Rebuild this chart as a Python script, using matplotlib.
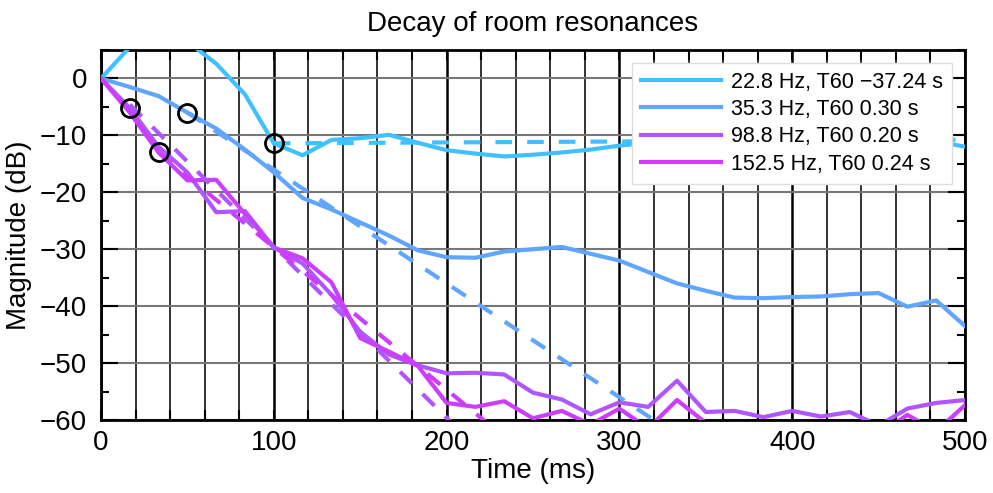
import numpy as np
import matplotlib
matplotlib.use("Agg")
import matplotlib.pyplot as plt
from matplotlib.ticker import MultipleLocator

plt.rcParams['font.family'] = ['Liberation Sans', 'DejaVu Sans']

# time frames (ms), one every 1/60 s
t = np.arange(31) * 500 / 30

db_228 = [0, 5.5, 9, 6.5, 2.6, -2.8, -11.4, -13.5, -10.8, -10.5, -9.9, -11.3, -12.6, -13.2,
          -13.7, -13.4, -13.0, -12.5, -11.8, -11.3, -11.0, -11.2, -11.5, -11.2, -10.9,
          -11.3, -11.6, -11.2, -10.9, -11.0, -12.0]
db_353 = [0, -1.5, -3.1, -6.0, -8.8, -12.5, -16.5, -21.0, -23.0, -25.3, -27.6, -30.2, -31.4,
          -31.5, -30.4, -30.0, -29.6, -30.8, -32.0, -34.0, -36.0, -37.3, -38.5, -38.6,
          -38.4, -38.3, -37.9, -37.7, -40.1, -39.0, -43.5]
db_988 = [0, -5.2, -12.0, -16.5, -23.5, -23.3, -29.7, -32.5, -38.0, -44.5, -48.5, -50.4,
          -51.8, -51.7, -52.0, -55.2, -56.4, -59.0, -56.9, -57.7, -53.1, -58.6, -58.4,
          -59.5, -58.4, -59.4, -58.6, -61.0, -58.0, -57.0, -56.5]
db_1525 = [0, -6.0, -13.0, -17.9, -17.8, -23.8, -29.7, -31.6, -35.8, -45.6, -48.0, -50.5,
           -57.0, -57.7, -56.7, -59.7, -58.4, -60.8, -58.0, -61.5, -56.5, -60.5, -62.0,
           -63.0, -62.5, -63.0, -62.0, -62.5, -59.1, -62.0, -57.4]

labels = ['22.8 Hz, T60 \u221237.24 s', '35.3 Hz, T60 0.30 s',
          '98.8 Hz, T60 0.20 s', '152.5 Hz, T60 0.24 s']
colors = ['#40C0FF', '#60A5FF', '#B055FF', '#CC3DFF']
t60 = [-37.24, 0.30, 0.20, 0.24]          # s
fit_t0 = [100.0, 50.0, 16.67, 33.33]     # ms, start of decay fit (circles)
fit_db0 = [-11.4, -6.0, -4.6, -13.0]
circle_db = [-11.4, -6.0, -5.2, -13.0]

fig = plt.figure(figsize=(9.93, 4.93), dpi=100)
ax = fig.add_axes([0.1017, 0.1481, 0.8701, 0.7505])

series = [db_228, db_353, db_988, db_1525]
for db, c, lab in zip(series, colors, labels):
    ax.plot(t, db, color=c, lw=3, label=lab, zorder=3)

for c, T, t0, d0 in zip(colors, t60, fit_t0, fit_db0):
    tf = np.array([t0, 500.0])
    ax.plot(tf, d0 - 60.0 / (T * 1000) * (tf - t0), color=c, lw=3,
            dashes=(4.0, 3.6), zorder=3)

ax.plot(fit_t0, circle_db, 'o', mfc='none', mec='k', ms=13, mew=2, zorder=4)

ax.set_xlim(0, 500)
ax.set_ylim(-60, 5)
ax.xaxis.set_major_locator(MultipleLocator(100))
ax.xaxis.set_minor_locator(MultipleLocator(20))
ax.yaxis.set_major_locator(MultipleLocator(10))
ax.yaxis.set_minor_locator(MultipleLocator(5))
ax.grid(which='major', axis='x', color='k', lw=1.8, zorder=1)
ax.grid(which='minor', axis='x', color='#222222', lw=1.3, zorder=1)
ax.grid(which='major', axis='y', color='#777777', lw=1.5, zorder=1)
ax.tick_params(which='both', direction='in', top=True, right=True, labelsize=20)
ax.tick_params(which='major', axis='y', length=12, width=1.5, pad=10)
ax.tick_params(which='minor', axis='y', length=6, width=1.5)
ax.tick_params(which='both', axis='x', length=7, width=1.5, pad=7)
for s in ax.spines.values():
    s.set_linewidth(2)

ax.set_title('Decay of room resonances', fontsize=20, pad=14)
ax.set_xlabel('Time (ms)', fontsize=20, labelpad=2)
ax.set_ylabel('Magnitude (dB)', fontsize=20, labelpad=6)

leg = ax.legend(loc='upper right', bbox_to_anchor=(0.985, 0.965), borderaxespad=0,
                fontsize=15.5, handlelength=3.7, handletextpad=0.5, labelspacing=0.3,
                fancybox=False, framealpha=1, edgecolor='#dddddd')
leg.set_zorder(5)

fig.savefig('out.png', dpi=100)
